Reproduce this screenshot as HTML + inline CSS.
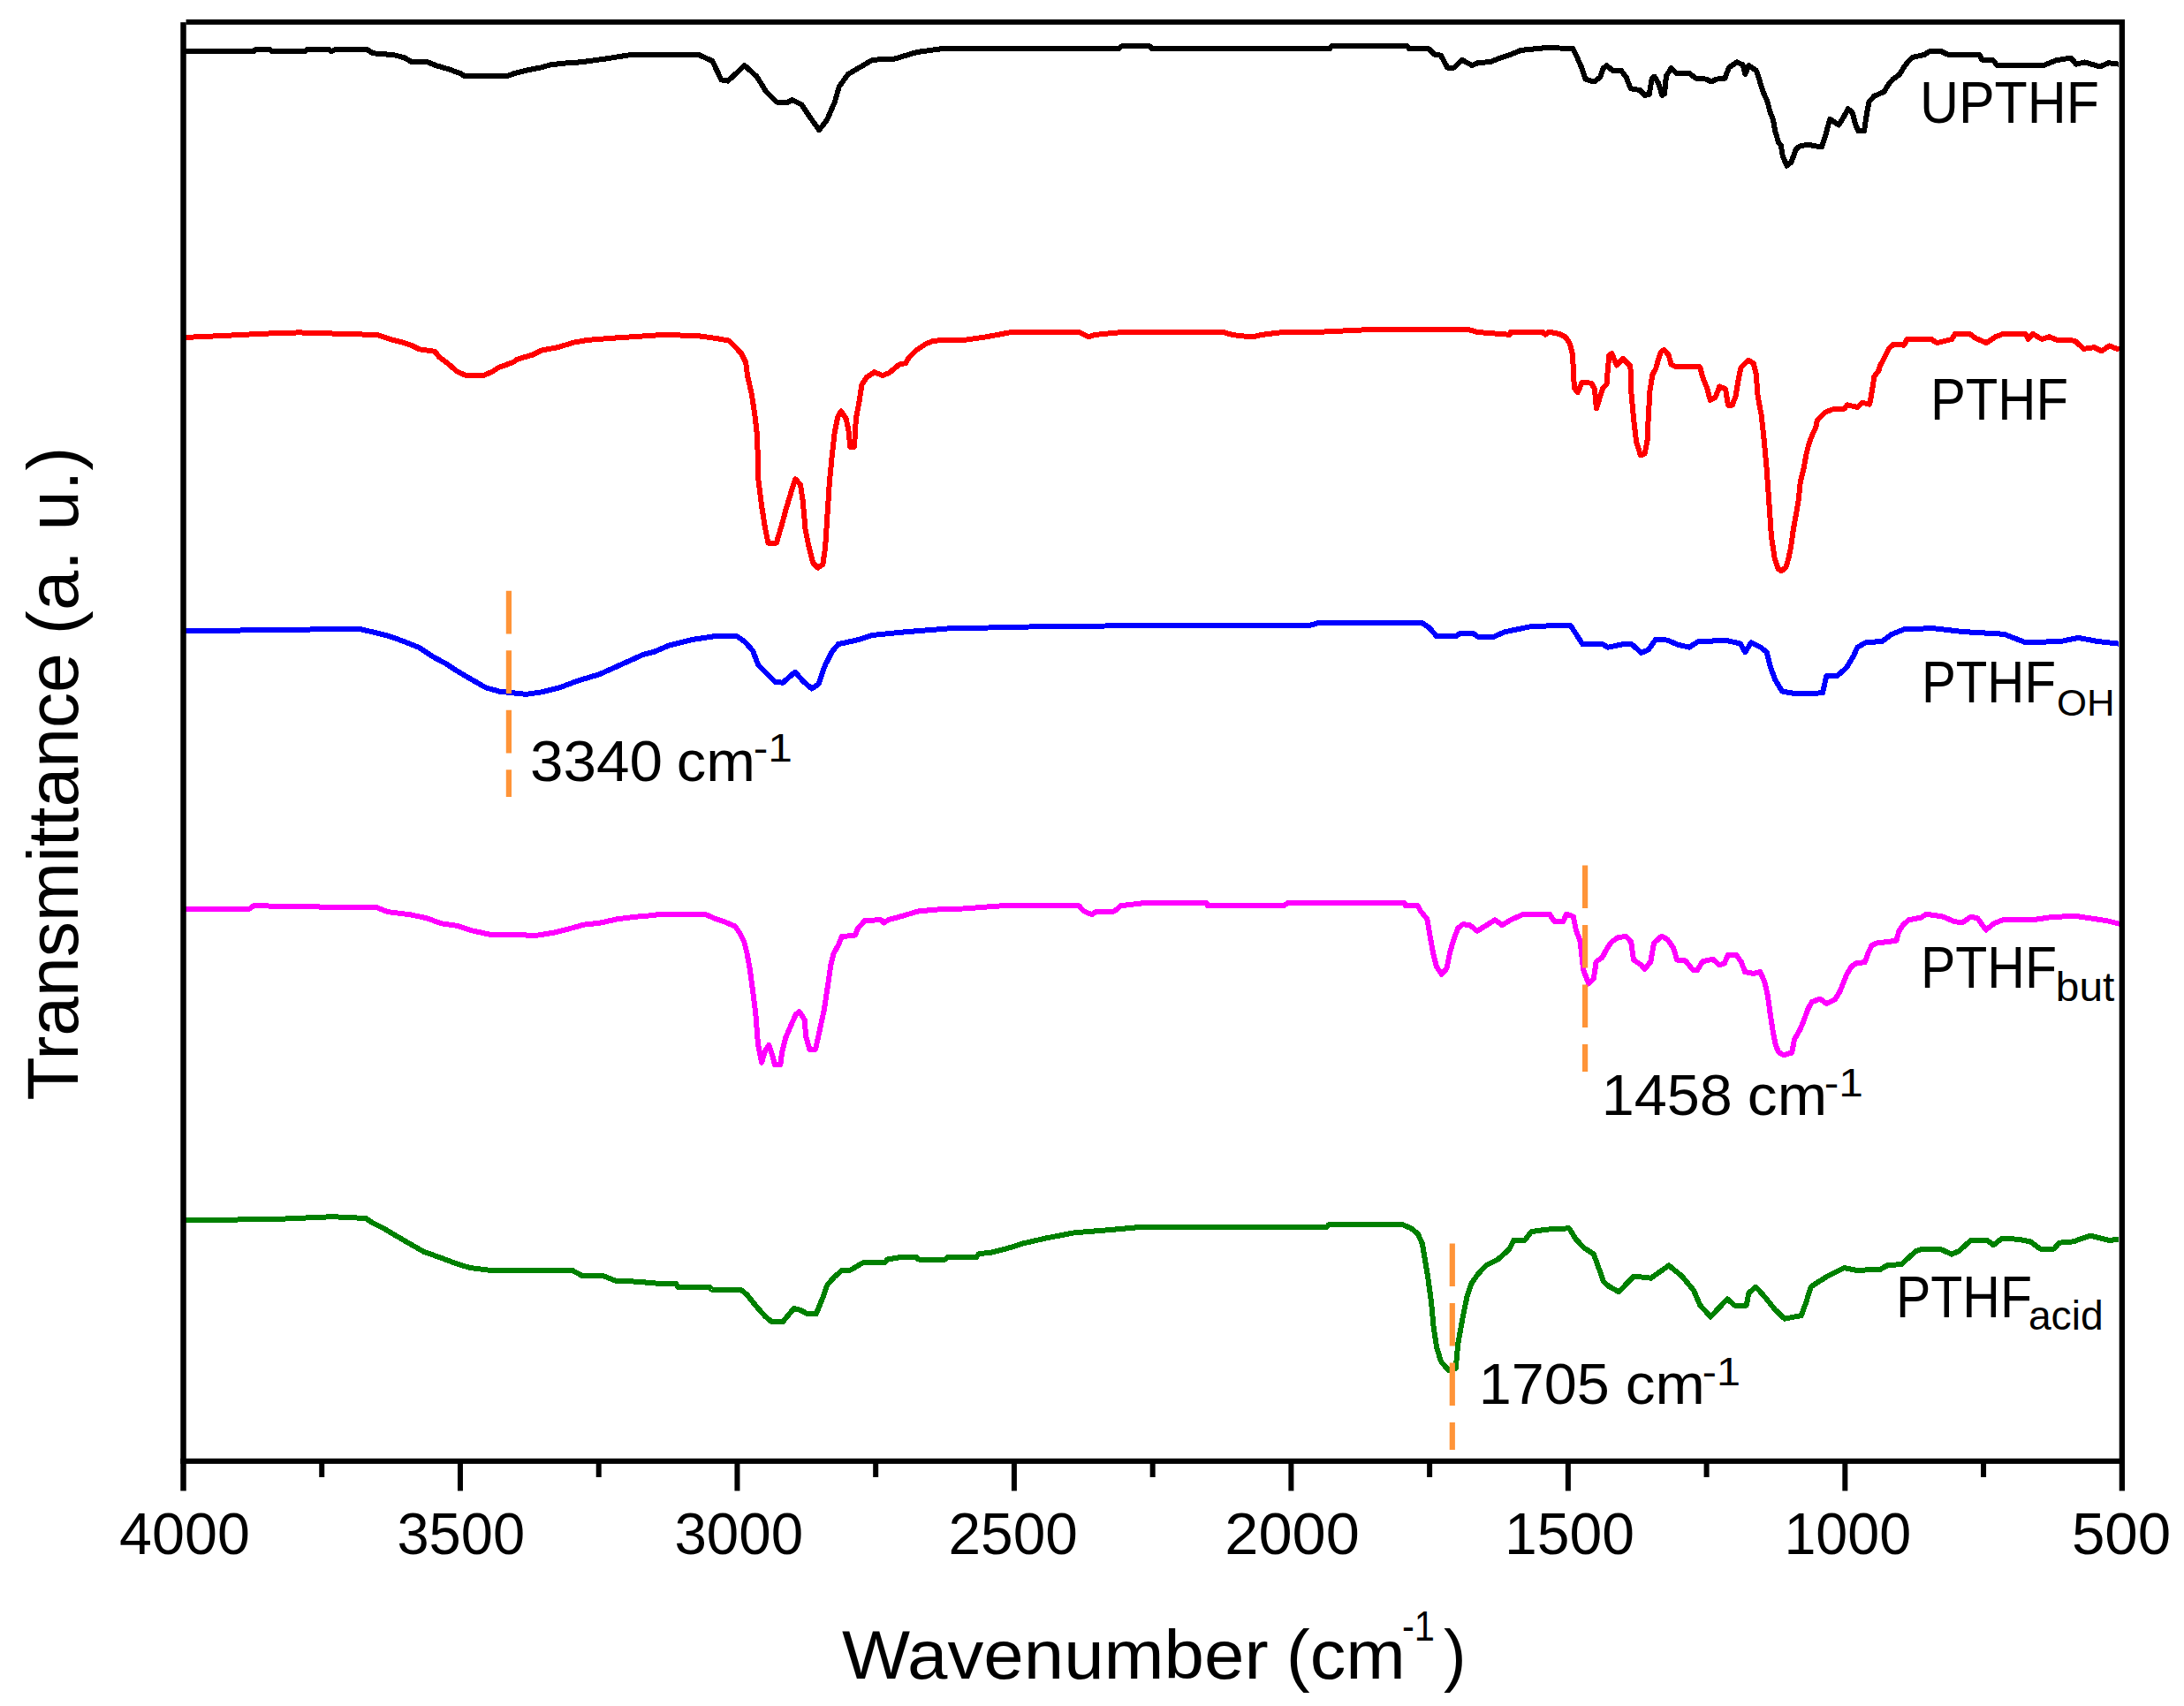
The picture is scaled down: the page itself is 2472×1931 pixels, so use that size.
<!DOCTYPE html>
<html><head><meta charset="utf-8"><title>FTIR spectra</title>
<style>
html,body{margin:0;padding:0;background:#fff;}
body{width:2472px;height:1931px;overflow:hidden;}
svg{display:block;}
</style></head><body>
<svg width="2472" height="1931" viewBox="0 0 2472 1931">
<rect x="0" y="0" width="2472" height="1931" fill="#ffffff"/>
<g fill="none" stroke-width="6" stroke-linejoin="round" stroke-linecap="butt" shape-rendering="crispEdges">
<polyline stroke="#000000" points="210.0,58.2 286.6,58.2 290.0,55.6 305.0,55.6 308.0,58.0 345.0,58.0 348.0,55.6 372.0,55.6 375.0,58.0 381.0,55.6 415.0,55.6 421.6,60.2 445.8,62.2 457.9,65.3 466.0,70.3 484.0,70.3 494.0,74.3 508.0,78.4 522.0,83.4 526.0,86.4 573.0,86.4 583.0,82.8 597.0,79.4 613.0,76.3 623.0,73.3 640.0,71.5 657.7,70.3 685.4,66.5 713.1,62.2 791.2,62.2 806.3,69.0 816.4,90.4 823.9,91.7 842.8,74.1 856.6,86.7 866.7,103.0 879.3,115.6 891.9,115.6 896.9,113.1 907.0,118.1 917.1,133.2 927.2,147.1 936.0,135.8 944.8,115.6 949.8,98.0 959.9,84.1 972.5,76.6 987.6,67.8 1012.8,66.5 1038.0,59.0 1065.7,55.2 1265.7,55.2 1270.0,52.2 1301.0,52.2 1304.0,55.2 1505.0,55.2 1507.0,52.2 1593.0,52.2 1595.0,55.2 1617.0,55.2 1623.3,61.5 1630.8,62.7 1638.4,76.6 1646.0,76.6 1654.8,67.8 1666.0,74.0 1673.6,70.8 1686.2,70.3 1698.8,65.3 1710.0,61.7 1721.5,56.9 1750.4,54.0 1780.2,55.0 1785.0,64.6 1790.8,78.1 1794.6,89.6 1804.2,92.5 1811.0,87.7 1814.8,77.1 1818.7,74.2 1825.4,80.0 1835.0,80.0 1840.8,87.7 1845.6,100.2 1856.2,102.1 1861.9,107.9 1866.7,106.9 1869.6,89.6 1872.5,86.7 1877.3,94.4 1881.2,107.9 1884.0,106.0 1886.0,85.8 1891.7,77.1 1897.5,82.9 1911.9,82.9 1919.6,88.7 1931.2,89.6 1936.9,92.5 1942.7,89.6 1952.3,88.7 1957.1,76.2 1965.8,70.4 1972.5,73.3 1975.4,83.8 1979.2,74.2 1987.9,80.0 1991.7,91.5 1995.6,104.0 2000.4,114.6 2003.3,126.2 2007.1,135.8 2009.0,147.3 2012.9,160.8 2015.8,164.6 2017.7,176.2 2022.5,187.7 2027.3,183.8 2033.1,168.5 2036.9,165.6 2045.6,163.7 2061.9,166.5 2065.8,155.0 2068.7,143.5 2071.5,134.8 2081.2,141.5 2086.0,133.8 2091.7,123.3 2096.5,127.1 2100.4,141.5 2103.3,148.3 2110.0,148.3 2112.8,129.4 2115.6,115.2 2121.3,108.8 2132.6,103.8 2137.6,95.3 2142.6,89.6 2149.7,84.6 2155.4,75.4 2161.0,68.3 2165.3,64.8 2178.1,61.9 2183.7,58.4 2197.9,58.4 2205.0,61.9 2240.5,61.9 2243.4,67.6 2256.1,68.3 2260.4,74.0 2312.9,74.0 2327.1,68.3 2344.1,65.5 2349.8,72.6 2359.8,70.5 2376.8,75.4 2386.7,71.2 2398.0,72.6"/>
<polyline stroke="#ff0000" points="208.8,382.0 247.8,380.2 298.2,377.7 338.5,376.4 426.6,379.0 441.7,384.0 451.8,386.5 464.4,390.3 474.5,395.3 492.1,397.8 497.2,404.1 507.2,411.7 517.3,420.5 527.4,425.0 547.5,425.0 557.6,420.5 565.1,415.5 580.3,410.4 585.3,406.7 602.9,401.6 613.0,396.6 633.1,392.8 648.2,387.8 665.9,384.8 693.6,382.7 731.3,380.2 750.0,379.0 788.8,380.0 809.4,382.8 825.3,385.6 831.9,392.2 839.4,400.6 844.1,410.0 846.0,425.0 850.7,445.7 854.4,470.0 857.2,494.4 858.2,541.3 861.9,571.3 865.7,595.7 869.4,614.5 878.8,614.5 884.4,595.7 890.0,575.1 895.7,556.3 900.4,542.3 906.0,548.8 908.8,567.6 911.6,599.5 915.4,618.2 920.1,637.0 925.7,642.6 931.3,638.9 934.1,620.1 936.0,590.1 938.8,547.0 941.6,517.0 944.5,490.7 948.2,471.9 952.0,465.4 957.6,473.8 960.4,486.9 962.3,505.7 967.0,505.7 968.9,473.8 972.6,454.1 975.4,435.4 981.0,426.9 989.5,421.3 998.9,425.0 1006.4,422.2 1017.6,412.8 1025.1,411.0 1028.9,404.4 1036.4,396.9 1047.6,389.4 1057.0,385.6 1092.6,384.7 1115.2,381.5 1145.4,375.9 1221.0,375.9 1232.3,381.5 1238.6,379.0 1271.3,375.9 1384.6,375.9 1394.7,379.0 1417.4,381.5 1427.4,379.0 1452.6,375.9 1490.4,375.9 1558.4,372.7 1660.8,372.7 1672.3,376.0 1709.0,378.8 1709.8,375.6 1745.4,375.6 1749.2,378.8 1753.1,375.6 1764.6,377.9 1772.3,381.7 1777.1,389.4 1780.0,401.9 1781.9,439.4 1785.8,444.2 1790.6,432.7 1801.2,433.7 1805.0,440.4 1806.9,462.5 1810.8,450.0 1813.7,440.4 1818.5,434.6 1819.4,423.1 1821.3,401.9 1824.2,400.0 1830.0,413.5 1836.7,405.8 1845.4,414.4 1846.3,444.2 1849.2,475.0 1852.1,500.0 1856.9,515.4 1861.7,513.5 1864.6,498.1 1865.6,475.0 1867.5,442.3 1870.4,424.0 1874.2,417.3 1877.1,406.7 1880.0,398.1 1883.8,396.2 1888.7,401.9 1891.5,412.5 1897.3,415.4 1924.2,415.4 1927.1,426.9 1931.9,438.5 1935.8,452.9 1941.5,450.0 1946.3,437.5 1953.1,440.4 1956.0,458.7 1960.8,458.7 1964.6,448.1 1967.5,430.8 1970.4,416.3 1979.0,407.7 1984.8,411.5 1987.7,423.1 1989.6,448.1 1993.5,469.2 1996.3,494.2 1999.2,525.0 2002.1,565.4 2005.0,607.7 2008.8,632.7 2012.7,644.2 2016.5,646.2 2021.3,642.3 2024.2,632.7 2027.1,619.2 2030.0,598.1 2032.9,582.7 2035.8,565.4 2037.7,546.2 2041.6,530.0 2044.3,515.0 2047.5,502.0 2051.9,490.6 2055.2,483.8 2056.9,475.4 2065.4,466.9 2073.9,463.5 2087.4,462.7 2090.8,458.4 2102.7,461.0 2107.8,455.9 2116.2,457.6 2117.9,448.3 2119.6,438.1 2121.3,426.2 2126.4,419.5 2128.1,413.5 2131.5,407.6 2134.9,400.8 2138.3,394.0 2143.3,389.8 2155.2,390.7 2158.6,383.9 2185.7,383.9 2192.5,388.1 2209.4,383.9 2212.8,378.0 2229.7,378.0 2236.5,383.0 2248.4,388.1 2258.5,381.3 2267.0,378.0 2292.4,378.0 2295.8,383.9 2300.9,378.0 2311.0,383.9 2319.5,381.3 2328.0,384.7 2348.3,385.6 2358.5,394.9 2370.3,393.2 2378.8,397.4 2387.3,391.5 2399.1,395.7"/>
<polyline stroke="#0000ff" points="208.8,714.1 336.0,712.9 386.4,711.6 405.2,711.6 424.1,715.9 441.7,720.4 456.9,726.0 474.5,733.0 489.6,743.1 504.7,751.2 517.3,759.5 532.4,768.3 550.0,778.4 565.1,782.6 595.4,785.9 613.0,783.4 633.1,778.4 653.3,770.8 678.5,763.2 703.7,751.9 728.8,740.6 740.0,737.9 757.6,730.4 782.8,724.1 808.0,720.3 834.4,720.3 843.2,726.6 852.1,736.7 858.4,753.0 868.4,763.1 877.2,771.9 886.1,772.7 899.9,760.6 908.7,770.7 918.8,779.5 926.4,774.4 933.9,753.0 941.5,737.9 949.0,729.1 971.7,724.1 986.8,719.0 1024.6,715.3 1072.4,711.5 1188.2,709.0 1290.0,708.2 1481.5,708.2 1491.5,705.2 1609.9,705.2 1617.4,710.2 1626.3,720.3 1647.7,720.3 1652.7,717.0 1667.8,717.0 1672.8,720.8 1690.5,720.8 1703.1,715.3 1733.3,709.0 1777.4,707.7 1782.4,715.3 1791.2,729.1 1813.9,729.1 1820.0,732.7 1836.2,729.4 1847.0,729.4 1857.8,738.9 1865.9,735.4 1874.0,723.8 1887.5,724.6 1898.3,729.4 1911.8,732.7 1922.6,725.9 1955.1,725.1 1969.9,728.6 1975.3,738.1 1982.1,727.3 1992.9,732.7 1999.6,738.1 2003.7,754.3 2009.1,769.1 2017.2,782.6 2033.4,785.3 2049.6,785.3 2063.1,784.0 2067.2,765.1 2079.3,765.1 2090.1,755.6 2098.2,742.1 2102.3,732.7 2111.7,727.3 2130.6,725.9 2141.4,717.8 2155.0,712.4 2187.4,711.1 2222.5,715.1 2268.4,717.8 2292.7,727.3 2333.2,725.9 2352.1,721.9 2373.8,725.9 2398.1,728.6"/>
<polyline stroke="#ff00ff" points="208.8,1028.5 283.1,1028.5 286.9,1025.2 351.1,1026.4 426.6,1027.2 439.2,1032.2 464.4,1035.3 482.0,1039.0 499.7,1045.3 517.3,1047.8 532.4,1052.9 555.1,1057.9 607.9,1058.7 625.6,1055.9 643.2,1051.6 660.8,1046.6 678.5,1044.8 698.6,1040.3 718.8,1037.8 740.0,1036.0 746.6,1034.6 797.7,1034.6 810.9,1040.4 820.8,1043.7 832.3,1048.6 837.2,1056.0 842.2,1065.9 845.5,1079.1 848.8,1097.2 852.1,1122.0 855.4,1148.3 857.9,1181.3 862.0,1202.7 866.1,1189.6 870.2,1183.0 874.3,1194.5 876.8,1205.2 883.4,1205.2 885.0,1191.2 889.2,1174.7 894.9,1161.5 900.7,1148.3 904.8,1145.0 910.6,1154.1 912.2,1173.1 916.4,1187.9 923.0,1187.9 926.3,1173.1 929.5,1158.2 932.8,1143.4 937.0,1115.4 940.3,1092.3 943.6,1079.1 949.3,1069.2 952.6,1060.2 968.3,1058.5 970.8,1051.1 979.0,1042.0 997.1,1041.2 1000.4,1044.5 1005.4,1041.2 1020.2,1037.1 1040.0,1031.3 1069.7,1028.8 1090.0,1028.5 1135.3,1025.2 1221.0,1025.2 1227.2,1031.5 1236.0,1035.3 1241.1,1031.5 1261.2,1031.5 1268.8,1025.2 1294.0,1022.2 1365.8,1022.2 1367.0,1025.2 1452.6,1025.2 1457.7,1022.2 1589.9,1022.2 1591.1,1025.2 1605.0,1025.2 1607.7,1030.8 1615.4,1040.4 1618.3,1057.7 1622.1,1078.8 1626.0,1094.2 1631.7,1102.9 1637.5,1096.2 1641.3,1076.9 1646.2,1061.5 1650.0,1051.0 1655.8,1046.2 1663.5,1047.1 1672.1,1053.8 1682.7,1047.1 1692.3,1041.3 1700.0,1047.1 1711.5,1040.4 1725.0,1034.6 1753.8,1034.6 1759.6,1043.3 1769.2,1043.3 1773.1,1034.6 1780.8,1037.5 1783.7,1051.9 1788.5,1065.4 1792.3,1098.1 1798.1,1113.5 1803.8,1107.7 1806.7,1088.5 1813.5,1083.7 1819.2,1073.1 1824.0,1066.3 1830.8,1061.5 1840.4,1059.6 1846.2,1066.3 1849.0,1086.5 1857.7,1092.3 1861.5,1097.1 1868.3,1088.5 1872.1,1067.3 1880.8,1059.6 1887.5,1063.5 1894.2,1073.1 1898.1,1086.5 1907.7,1087.5 1916.3,1098.1 1921.2,1098.1 1926.9,1088.5 1938.5,1085.6 1946.2,1092.3 1951.9,1090.4 1955.8,1080.8 1965.4,1080.8 1971.2,1089.4 1975.0,1100.0 1984.6,1101.9 1992.3,1100.0 1997.5,1112.0 2001.0,1128.0 2003.5,1146.3 2006.5,1166.0 2009.8,1183.0 2013.3,1191.0 2018.8,1194.3 2028.2,1191.5 2031.0,1176.5 2037.5,1165.2 2042.2,1153.9 2046.0,1142.7 2050.7,1134.2 2060.1,1130.5 2067.6,1136.1 2077.0,1131.4 2082.6,1122.0 2086.4,1112.6 2090.1,1103.2 2095.7,1093.9 2101.4,1090.1 2110.8,1089.2 2114.5,1078.8 2118.3,1070.4 2123.9,1067.6 2146.4,1064.8 2149.2,1054.4 2153.9,1046.9 2160.5,1041.3 2174.6,1038.5 2180.2,1034.7 2199.0,1037.5 2212.1,1043.2 2221.5,1044.1 2230.9,1037.5 2238.4,1039.4 2247.8,1052.6 2257.2,1045.1 2266.6,1041.3 2300.4,1041.3 2319.1,1038.5 2347.3,1036.6 2366.1,1039.4 2384.8,1042.2 2399.9,1046.0"/>
<polyline stroke="#008000" points="208.8,1381.5 318.4,1379.7 376.3,1377.2 414.0,1379.0 421.6,1384.0 434.2,1390.3 446.8,1397.8 461.9,1406.7 479.5,1416.7 497.2,1423.0 517.3,1430.6 532.4,1435.1 552.6,1437.6 648.2,1438.1 658.3,1443.7 683.5,1444.4 696.1,1449.5 721.3,1450.7 750.0,1453.2 765.2,1453.2 767.7,1457.0 803.0,1457.0 805.5,1459.5 838.2,1459.5 845.8,1465.8 855.8,1478.4 865.9,1489.8 873.5,1496.1 886.1,1496.1 898.6,1481.0 906.2,1483.0 913.8,1487.2 923.8,1487.2 931.4,1468.4 936.4,1454.5 944.0,1445.7 952.8,1438.1 961.6,1438.1 976.7,1429.3 1001.9,1428.8 1004.4,1425.5 1019.5,1423.0 1037.2,1423.0 1039.7,1425.5 1069.9,1425.5 1072.4,1423.0 1105.1,1423.0 1107.7,1419.3 1122.8,1417.5 1140.4,1413.0 1158.0,1407.4 1183.2,1401.6 1216.0,1395.3 1253.7,1392.3 1290.0,1389.0 1501.6,1389.0 1504.1,1386.0 1587.2,1386.0 1597.3,1390.3 1604.9,1396.6 1609.9,1407.9 1612.4,1423.0 1616.2,1445.7 1620.0,1473.4 1622.5,1501.1 1626.3,1526.3 1631.3,1541.4 1640.1,1551.5 1647.7,1548.9 1650.2,1521.2 1655.2,1493.5 1660.3,1468.4 1665.3,1453.2 1672.9,1441.9 1682.9,1431.8 1695.5,1425.5 1708.1,1414.2 1713.1,1404.1 1725.7,1404.1 1733.3,1394.1 1750.9,1391.6 1776.1,1390.3 1783.7,1402.9 1793.7,1413.0 1803.8,1419.3 1808.8,1433.1 1815.1,1450.7 1821.0,1456.0 1826.5,1459.0 1832.2,1462.1 1849.7,1444.5 1868.6,1446.7 1888.9,1432.4 1903.7,1444.5 1917.2,1460.8 1924.0,1477.0 1936.2,1490.5 1955.1,1470.2 1963.2,1477.5 1976.7,1477.5 1979.4,1463.5 1987.5,1456.7 1998.3,1468.9 2009.1,1482.4 2019.9,1492.6 2038.8,1489.1 2044.2,1474.3 2049.6,1456.7 2057.7,1451.3 2068.5,1444.5 2087.4,1435.1 2100.9,1437.8 2127.9,1437.0 2136.0,1432.4 2152.2,1431.0 2168.5,1416.2 2176.6,1413.5 2195.5,1413.5 2209.0,1419.7 2217.1,1416.2 2230.6,1404.0 2249.5,1404.0 2256.3,1409.4 2265.7,1401.9 2284.6,1402.7 2298.1,1405.4 2308.9,1413.5 2325.1,1413.5 2330.5,1406.7 2346.7,1405.4 2365.6,1398.6 2387.3,1404.0 2398.1,1402.7"/>
</g>
<g stroke="#ff9438" stroke-width="6.2" stroke-dasharray="48.6 18.9" fill="none">
<line x1="575.9" y1="668.8" x2="575.9" y2="902"/>
<line x1="1794.1" y1="979.5" x2="1794.1" y2="1213"/>
<line x1="1643.8" y1="1407.5" x2="1643.8" y2="1641"/>
</g>
<g fill="#000000">
<rect x="204.3" y="25.2" width="6.45" height="1662.3"/>
<rect x="210.6" y="22" width="2194.4" height="5.9"/>
<rect x="2398.7" y="22" width="6.3" height="1665.5"/>
<rect x="204.3" y="1650.8" width="2200.7" height="6.1"/>
<rect x="517.97" y="1656" width="6" height="31.5"/>
<rect x="831.44" y="1656" width="6" height="31.5"/>
<rect x="1144.91" y="1656" width="6" height="31.5"/>
<rect x="1458.39" y="1656" width="6" height="31.5"/>
<rect x="1771.86" y="1656" width="6" height="31.5"/>
<rect x="2085.33" y="1656" width="6" height="31.5"/>
<rect x="361.24" y="1656" width="6" height="16"/>
<rect x="674.71" y="1656" width="6" height="16"/>
<rect x="988.18" y="1656" width="6" height="16"/>
<rect x="1301.65" y="1656" width="6" height="16"/>
<rect x="1615.12" y="1656" width="6" height="16"/>
<rect x="1928.59" y="1656" width="6" height="16"/>
<rect x="2242.06" y="1656" width="6" height="16"/>
</g>
<text font-family="'Liberation Sans', Arial, sans-serif" fill="#000" font-size="67" x="2172.9" y="138.6" textLength="203.0" lengthAdjust="spacingAndGlyphs">UPTHF</text>
<text font-family="'Liberation Sans', Arial, sans-serif" fill="#000" font-size="67" x="2184.9" y="474.5" textLength="156.2" lengthAdjust="spacingAndGlyphs">PTHF</text>
<text font-family="'Liberation Sans', Arial, sans-serif" fill="#000" font-size="67" x="2174.9" y="794.8" textLength="152.1" lengthAdjust="spacingAndGlyphs">PTHF</text>
<text font-family="'Liberation Sans', Arial, sans-serif" fill="#000" font-size="43" x="2327.9" y="809.7" textLength="65.6" lengthAdjust="spacingAndGlyphs">OH</text>
<text font-family="'Liberation Sans', Arial, sans-serif" fill="#000" font-size="67" x="2173.9" y="1117.9" textLength="154.1" lengthAdjust="spacingAndGlyphs">PTHF</text>
<text font-family="'Liberation Sans', Arial, sans-serif" fill="#000" font-size="46" x="2326.8" y="1133.3" textLength="66.5" lengthAdjust="spacingAndGlyphs">but</text>
<text font-family="'Liberation Sans', Arial, sans-serif" fill="#000" font-size="67" x="2145.9" y="1490.5" textLength="154.1" lengthAdjust="spacingAndGlyphs">PTHF</text>
<text font-family="'Liberation Sans', Arial, sans-serif" fill="#000" font-size="46" x="2295.9" y="1505.3" textLength="84.8" lengthAdjust="spacingAndGlyphs">acid</text>
<text font-family="'Liberation Sans', Arial, sans-serif" fill="#000" font-size="65" x="599.9" y="883.5" textLength="150.0" lengthAdjust="spacingAndGlyphs">3340</text>
<text font-family="'Liberation Sans', Arial, sans-serif" fill="#000" font-size="65" x="765.8" y="883.5" textLength="89.1" lengthAdjust="spacingAndGlyphs">cm</text>
<text font-family="'Liberation Sans', Arial, sans-serif" fill="#000" font-size="44" x="852.8" y="862.0" textLength="44.2" lengthAdjust="spacingAndGlyphs">-1</text>
<text font-family="'Liberation Sans', Arial, sans-serif" fill="#000" font-size="65" x="1812.8" y="1262.4" textLength="148.1" lengthAdjust="spacingAndGlyphs">1458</text>
<text font-family="'Liberation Sans', Arial, sans-serif" fill="#000" font-size="65" x="1977.8" y="1262.4" textLength="90.2" lengthAdjust="spacingAndGlyphs">cm</text>
<text font-family="'Liberation Sans', Arial, sans-serif" fill="#000" font-size="44" x="2064.8" y="1241.0" textLength="44.2" lengthAdjust="spacingAndGlyphs">-1</text>
<text font-family="'Liberation Sans', Arial, sans-serif" fill="#000" font-size="65" x="1673.8" y="1588.7" textLength="148.1" lengthAdjust="spacingAndGlyphs">1705</text>
<text font-family="'Liberation Sans', Arial, sans-serif" fill="#000" font-size="65" x="1839.8" y="1588.7" textLength="90.1" lengthAdjust="spacingAndGlyphs">cm</text>
<text font-family="'Liberation Sans', Arial, sans-serif" fill="#000" font-size="44" x="1926.8" y="1567.6" textLength="43.2" lengthAdjust="spacingAndGlyphs">-1</text>
<text font-family="'Liberation Sans', Arial, sans-serif" fill="#000" font-size="77" x="953.0" y="1899.7" textLength="482.6" lengthAdjust="spacingAndGlyphs">Wavenumber</text>
<text font-family="'Liberation Sans', Arial, sans-serif" fill="#000" font-size="77" x="1455.7" y="1899.7" textLength="135.1" lengthAdjust="spacingAndGlyphs">(cm</text>
<text font-family="'Liberation Sans', Arial, sans-serif" fill="#000" font-size="48" x="1586.9" y="1856.8" textLength="37.0" lengthAdjust="spacingAndGlyphs">-1</text>
<text font-family="'Liberation Sans', Arial, sans-serif" fill="#000" font-size="77" x="1633.9" y="1899.7" textLength="25.6" lengthAdjust="spacingAndGlyphs">)</text>
<text font-family="'Liberation Sans', Arial, sans-serif" fill="#000" font-size="82" transform="translate(87.6,1245.5) rotate(-90)" x="-0.1" y="0" textLength="506.4" lengthAdjust="spacingAndGlyphs">Transmittance</text>
<text font-family="'Liberation Sans', Arial, sans-serif" fill="#000" font-size="82" transform="translate(87.6,1245.5) rotate(-90)" x="527.3" y="0" textLength="212.6" lengthAdjust="spacingAndGlyphs">(a. u.)</text>
<text font-family="'Liberation Sans', Arial, sans-serif" fill="#000" font-size="66" x="135.0" y="1758.5" textLength="147.9" lengthAdjust="spacingAndGlyphs">4000</text>
<text font-family="'Liberation Sans', Arial, sans-serif" fill="#000" font-size="66" x="449.4" y="1758.5" textLength="144.7" lengthAdjust="spacingAndGlyphs">3500</text>
<text font-family="'Liberation Sans', Arial, sans-serif" fill="#000" font-size="66" x="763.4" y="1758.5" textLength="145.7" lengthAdjust="spacingAndGlyphs">3000</text>
<text font-family="'Liberation Sans', Arial, sans-serif" fill="#000" font-size="66" x="1073.5" y="1758.5" textLength="146.3" lengthAdjust="spacingAndGlyphs">2500</text>
<text font-family="'Liberation Sans', Arial, sans-serif" fill="#000" font-size="66" x="1386.3" y="1758.5" textLength="152.5" lengthAdjust="spacingAndGlyphs">2000</text>
<text font-family="'Liberation Sans', Arial, sans-serif" fill="#000" font-size="66" x="1703.0" y="1758.5" textLength="146.9" lengthAdjust="spacingAndGlyphs">1500</text>
<text font-family="'Liberation Sans', Arial, sans-serif" fill="#000" font-size="66" x="2019.4" y="1758.5" textLength="143.8" lengthAdjust="spacingAndGlyphs">1000</text>
<text font-family="'Liberation Sans', Arial, sans-serif" fill="#000" font-size="66" x="2344.9" y="1758.5" textLength="112.3" lengthAdjust="spacingAndGlyphs">500</text>
</svg>
</body></html>
